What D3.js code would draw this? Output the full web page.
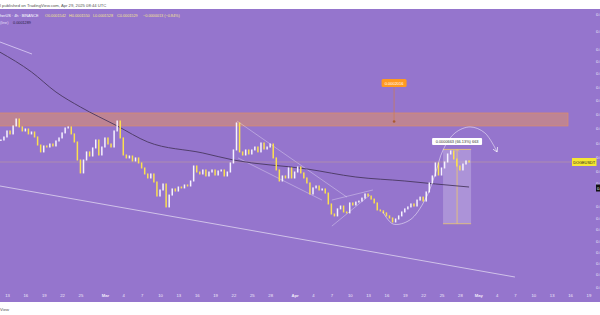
<!DOCTYPE html>
<html>
<head>
<meta charset="utf-8">
<script src="https://cdn.jsdelivr.net/npm/d3@7"></script>
<style>
html, body { margin: 0; padding: 0; background: #fff; overflow: hidden; }
svg { display: block; font-family: "Liberation Sans", "DejaVu Sans", sans-serif; }
</style>
</head>
<body>
<svg id="chart" width="600" height="315"></svg>
<script>
/*--- datos ---*/
// velas de 12h desde el 12 de febrero (cierres)
let inicio_velas = "2025-02-12T00:00"
let cierres = [
  0.0001777, 0.0001814, 0.0001890, 0.0001852, 0.0001956, 0.0002051, 0.0001943, 0.0001890, 0.0001916, 0.0001852,
  0.0001877, 0.0001814, 0.0001717, 0.0001638, 0.0001706, 0.0001694, 0.0001729, 0.0001706, 0.0001765, 0.0001802,
  0.0001865, 0.0001929, 0.0001943, 0.0001852, 0.0001753, 0.0001550, 0.0001419, 0.0001550, 0.0001638, 0.0001593,
  0.0001683, 0.0001777, 0.0001604, 0.0001694, 0.0001802, 0.0001729, 0.0001694, 0.0001890, 0.0002023, 0.0001802,
  0.0001604, 0.0001572, 0.0001593, 0.0001540, 0.0001572, 0.0001519, 0.0001468, 0.0001409, 0.0001371, 0.0001409,
  0.0001334, 0.0001212, 0.0001263, 0.0001316, 0.0001125, 0.0001220, 0.0001272, 0.0001254, 0.0001289, 0.0001281,
  0.0001307, 0.0001298, 0.0001343, 0.0001488, 0.0001428, 0.0001409, 0.0001448, 0.0001390, 0.0001428, 0.0001448,
  0.0001399, 0.0001438, 0.0001448, 0.0001390, 0.0001428, 0.0001519, 0.0001660, 0.0001996, 0.0001638, 0.0001604,
  0.0001660, 0.0001615, 0.0001660, 0.0001694, 0.0001638, 0.0001741, 0.0001671, 0.0001694, 0.0001729, 0.0001572,
  0.0001448, 0.0001343, 0.0001390, 0.0001371, 0.0001468, 0.0001371, 0.0001428, 0.0001478, 0.0001419, 0.0001371,
  0.0001325, 0.0001229, 0.0001281, 0.0001298, 0.0001263, 0.0001272, 0.0001237, 0.0001148, 0.0001072, 0.0001058,
  0.0001110, 0.0001132, 0.0001087, 0.0001080, 0.0001156, 0.0001140, 0.0001163, 0.0001171, 0.0001195, 0.0001229,
  0.0001212, 0.0001187, 0.0001156, 0.0001102, 0.0001095, 0.0001080, 0.0001058, 0.0001043, 0.0001015, 0.0001036,
  0.0001058, 0.0001087, 0.0001110, 0.0001125, 0.0001148, 0.0001132, 0.0001179, 0.0001203, 0.0001171, 0.0001246,
  0.0001325, 0.0001390, 0.0001519, 0.0001399, 0.0001468, 0.0001529, 0.0001615, 0.0001649, 0.0001561, 0.0001488,
  0.0001448, 0.0001508, 0.0001540, 0.0001529
]

// media movil (linea oscura)
let ma_fechas = ["2025-02-11T18:00", "2025-02-17T00:00", "2025-02-21T00:00", "2025-02-25T00:00", "2025-03-03T00:00",
  "2025-03-08T00:00", "2025-03-17T00:00", "2025-03-22T00:00", "2025-04-03T00:00", "2025-04-11T00:00",
  "2025-04-19T00:00", "2025-04-24T00:00", "2025-04-29T12:00"]
let ma_valores = [0.0003245, 0.0002828, 0.0002466, 0.0002226, 0.0001956, 0.0001753, 0.0001626, 0.0001550,
  0.0001458, 0.0001380, 0.0001343, 0.0001316, 0.0001289]

let fechas_eje_x = ["2025-02-13", "2025-02-16", "2025-02-19", "2025-02-22", "2025-02-25", "2025-03-01",
  "2025-03-04", "2025-03-07", "2025-03-10", "2025-03-13", "2025-03-16", "2025-03-19", "2025-03-22", "2025-03-25",
  "2025-03-28", "2025-04-01", "2025-04-04", "2025-04-07", "2025-04-10", "2025-04-13", "2025-04-16", "2025-04-19",
  "2025-04-22", "2025-04-25", "2025-04-28", "2025-05-01", "2025-05-04", "2025-05-07", "2025-05-10", "2025-05-13",
  "2025-05-16", "2025-05-19"]

let ticks_precio = [0.0004200, 0.0003750, 0.0003300, 0.0003050, 0.0002800, 0.0002550, 0.0002330, 0.0002120,
  0.0001930, 0.0001740, 0.0001580, 0.0001440, 0.0001320, 0.0001130, 0.0001040, 0.0000968, 0.0000890,
  0.0000825, 0.0000765, 0.0000710, 0.0000650]

let precio_ultimo = 0.0001529
let ma_ultimo = 0.0001289

// dibujos sobre el grafico [fecha, precio]
let zona = [["2025-02-01T00:00", 0.0002137], ["2025-05-15T16:00", 0.0001956]]
let alerta = ["2025-04-17T06:00", 0.0002016]
let linea_arriba_izq = [["2025-02-11T20:00", 0.0003471], ["2025-02-17T02:00", 0.0003197]]
let linea_larga = [["2025-02-11T20:00", 0.0001298], ["2025-05-07T00:00", 0.0000697]]
let canal = [
  [["2025-03-22T14:00", 0.0002023], ["2025-04-09T13:00", 0.0001203]],
  [["2025-03-22T18:00", 0.0001572], ["2025-04-05T11:00", 0.0001179]],
  [["2025-04-07T02:00", 0.0001179], ["2025-04-13T19:00", 0.0001263]],
  [["2025-04-07T02:00", 0.0000987], ["2025-04-13T07:00", 0.0001220]]
]
let arco = [["2025-04-15T10:00", 0.0001087], ["2025-04-17T02:00", 0.0001001], ["2025-04-19T20:00", 0.0001029],
  ["2025-04-22T07:00", 0.0001179], ["2025-04-23T22:00", 0.0001399], ["2025-04-25T06:00", 0.0001660],
  ["2025-04-27T05:00", 0.0001865], ["2025-04-29T16:00", 0.0001943], ["2025-05-02T02:00", 0.0001865],
  ["2025-05-04T02:00", 0.0001638]]
let medida = {desde: "2025-04-25T06:00", hasta: "2025-04-29T20:00", centro: "2025-04-27T13:00",
  bajo: 0.0001003, alto: 0.0001666, texto: "0.0000663 (66.13%) 663"}

/*--- escalas ---*/
let parse = d3.utcParse("%Y-%m-%dT%H:%M")
let parseDia = d3.utcParse("%Y-%m-%d")

let x = d3.scaleUtc()
  .domain([parseDia("2025-02-13"), parseDia("2025-05-19")])
  .range([7, 588.4])

let y = d3.scaleLog()
  .domain([ma_ultimo, precio_ultimo])
  .range([187, 162])

let svg = d3.select("#chart")
let morado = "#9575cd"

// franja superior e inferior
svg.append("rect").attr("x", 0).attr("y", 9).attr("width", 600).attr("height", 293).attr("fill", morado)

svg.append("text").attr("x", 0).attr("y", 6.5)
  .attr("font-size", 4.2).attr("fill", "#555")
  .text("l published on TradingView.com, Apr 29, 2025 08:44 UTC")

svg.append("text").attr("x", 0).attr("y", 311)
  .attr("font-size", 4.2).attr("fill", "#555")
  .text("View")

svg.append("defs").append("clipPath").attr("id", "area")
  .append("rect").attr("x", 0).attr("y", 9).attr("width", 600).attr("height", 293)

let g = svg.append("g").attr("clip-path", "url(#area)")

/*--- zona naranja ---*/
g.append("rect")
  .attr("x", x(parse(zona[0][0])))
  .attr("y", y(zona[0][1]))
  .attr("width", x(parse(zona[1][0])) - x(parse(zona[0][0])))
  .attr("height", y(zona[1][1]) - y(zona[0][1]))
  .attr("fill", "rgba(240,150,80,0.45)")
  .attr("stroke", "rgb(222,140,105)")
  .attr("stroke-width", 0.7)

/*--- lineas de dibujo ---*/
let blanco = "rgba(255,255,255,0.7)"
function segmento(p, color, ancho) {
  g.append("line")
    .attr("x1", x(parse(p[0][0]))).attr("y1", y(p[0][1]))
    .attr("x2", x(parse(p[1][0]))).attr("y2", y(p[1][1]))
    .attr("stroke", color).attr("stroke-width", ancho)
}
segmento(linea_arriba_izq, "rgba(235,225,255,0.85)", 0.8)
segmento(linea_larga, blanco, 0.8)
canal.forEach(p => segmento(p, "rgba(255,255,255,0.55)", 0.6))

// linea de ultimo precio
g.append("line")
  .attr("x1", 0).attr("x2", 572)
  .attr("y1", y(precio_ultimo)).attr("y2", y(precio_ultimo))
  .attr("stroke", "rgba(200,165,150,0.85)").attr("stroke-width", 0.6)

/*--- rectangulo de medida ---*/
let mx0 = x(parse(medida.desde)), mx1 = x(parse(medida.hasta))
let my0 = y(medida.alto), my1 = y(medida.bajo)
g.append("rect")
  .attr("x", mx0).attr("y", my0).attr("width", mx1 - mx0).attr("height", my1 - my0)
  .attr("fill", "rgba(255,255,255,0.22)")
let amarillo_claro = "rgb(236,200,110)"
g.append("line").attr("x1", mx0).attr("x2", mx1).attr("y1", my0).attr("y2", my0)
  .attr("stroke", amarillo_claro).attr("stroke-width", 0.8)
g.append("line").attr("x1", mx0).attr("x2", mx1).attr("y1", my1).attr("y2", my1)
  .attr("stroke", amarillo_claro).attr("stroke-width", 0.8)
let mxc = x(parse(medida.centro))
g.append("line").attr("x1", mxc).attr("x2", mxc).attr("y1", my0).attr("y2", my1)
  .attr("stroke", amarillo_claro).attr("stroke-width", 0.8)
g.append("path")
  .attr("d", `M${mxc - 2},${my0 + 2} L${mxc},${my0} L${mxc + 2},${my0 + 2}`)
  .attr("fill", "none").attr("stroke", amarillo_claro).attr("stroke-width", 0.7)

/*--- media movil ---*/
let lineaMA = d3.line()
  .x((d, i) => x(parse(ma_fechas[i])))
  .y(d => y(d))
  .curve(d3.curveMonotoneX)
g.append("path").datum(ma_valores)
  .attr("d", lineaMA)
  .attr("fill", "none")
  .attr("stroke", "rgb(72,56,96)")
  .attr("stroke-width", 0.9)

/*--- velas ---*/
let t0 = parse(inicio_velas)
let velas = cierres.map((c, i) => ({
  fecha: d3.utcHour.offset(t0, i * 12),
  abre: i === 0 ? c : cierres[i - 1],
  cierra: c
}))

g.append("g").selectAll("rect")
  .data(velas)
  .enter().append("rect")
  .attr("x", d => x(d.fecha) - 0.75)
  .attr("width", 1.5)
  .attr("y", d => Math.min(y(d.abre), y(d.cierra)) - 0.5)
  .attr("height", d => Math.max(1.5, Math.abs(y(d.abre) - y(d.cierra)) + 1))
  .attr("fill", d => d.cierra >= d.abre ? "#f6f2ff" : "#fbe04e")

/*--- arco con flecha ---*/
svg.select("defs").append("marker")
  .attr("id", "flecha")
  .attr("viewBox", "0 0 6 6").attr("refX", 5).attr("refY", 3)
  .attr("markerWidth", 5).attr("markerHeight", 5)
  .attr("markerUnits", "userSpaceOnUse")
  .attr("orient", "auto")
  .append("path").attr("d", "M0,0 L5,3 L0,6")
  .attr("fill", "none").attr("stroke", "rgba(255,255,255,0.8)").attr("stroke-width", 1)

let lineaArco = d3.line()
  .x(d => x(parse(d[0])))
  .y(d => y(d[1]))
  .curve(d3.curveCatmullRom)
g.append("path").datum(arco)
  .attr("d", lineaArco)
  .attr("fill", "none")
  .attr("stroke", "rgba(255,255,255,0.7)")
  .attr("stroke-width", 0.7)
  .attr("marker-end", "url(#flecha)")

/*--- alerta naranja ---*/
let ax = x(parse(alerta[0])), ay = y(alerta[1])
g.append("line").attr("x1", ax).attr("x2", ax).attr("y1", 87).attr("y2", ay)
  .attr("stroke", "rgb(205,125,80)").attr("stroke-width", 0.7)
g.append("circle").attr("cx", ax).attr("cy", ay).attr("r", 1.3).attr("fill", "rgb(170,90,50)")
g.append("rect").attr("x", ax - 12.5).attr("y", 79).attr("width", 25).attr("height", 8).attr("rx", 1.5)
  .attr("fill", "#ff9a1f")
g.append("text").attr("x", ax).attr("y", 84.5).attr("text-anchor", "middle")
  .attr("font-size", 4).attr("fill", "#fff").text(d3.format(".7f")(alerta[1]))

/*--- etiqueta de medida ---*/
g.append("rect").attr("x", mxc - 25).attr("y", 138).attr("width", 50).attr("height", 7).attr("rx", 1)
  .attr("fill", "#ffffff")
g.append("text").attr("x", mxc).attr("y", 143).attr("text-anchor", "middle")
  .attr("font-size", 3.9).attr("fill", "#333").text(medida.texto)

/*--- ejes ---*/
let ejeX = d3.axisBottom(x)
  .tickValues(fechas_eje_x.map(parseDia))
  .tickSize(0).tickPadding(0)
  .tickFormat(d => d.getUTCDate() === 1 ? d3.utcFormat("%b")(d) : d.getUTCDate())
let gx = svg.append("g").attr("transform", "translate(0,294.5)").call(ejeX)
gx.select(".domain").remove()
gx.selectAll("text")
  .attr("font-size", 4.2).attr("fill", "#f1ecfa")
  .attr("font-family", "Liberation Sans, DejaVu Sans, sans-serif")
  .attr("font-weight", d => d.getUTCDate() === 1 ? "bold" : "normal")

let ejeY = d3.axisRight(y)
  .tickValues(ticks_precio)
  .tickSize(0).tickPadding(0)
  .tickFormat(d3.format(".7f"))
let gy = svg.append("g").attr("transform", "translate(596,0)").call(ejeY)
gy.select(".domain").remove()
gy.selectAll("text")
  .attr("font-size", 4.2).attr("fill", "#f1ecfa")
  .attr("font-family", "Liberation Sans, DejaVu Sans, sans-serif")

// etiquetas del lado derecho
svg.append("rect").attr("x", 572).attr("y", y(precio_ultimo) - 4).attr("width", 24.5).attr("height", 8)
  .attr("fill", "#f5e733")
svg.append("text").attr("x", 584.2).attr("y", y(precio_ultimo) + 1.5).attr("text-anchor", "middle")
  .attr("font-size", 3.9).attr("fill", "#222").text("DOGEUSDT")
svg.append("rect").attr("x", 596).attr("y", y(ma_ultimo) - 2.5).attr("width", 30).attr("height", 7)
  .attr("fill", "#111")
svg.append("text").attr("x", 597).attr("y", y(ma_ultimo) + 2.5)
  .attr("font-size", 4.2).attr("fill", "#fff").text(d3.format(".7f")(ma_ultimo))

/*--- leyenda ---*/
let fs_leyenda = 3.8
svg.append("text").attr("x", 0).attr("y", 16.5).attr("font-size", fs_leyenda)
  .attr("fill", "#ffffff").text("herUS · 4h · BINANCE")
let amarillo_leyenda = "#f4e48a"
let ohlc = [["O", 0.0001542, 45], ["H", 0.0001550, 69], ["L", 0.0001528, 93], ["C", 0.0001529, 117]]
ohlc.forEach(o => {
  svg.append("text").attr("x", o[2]).attr("y", 16.5).attr("font-size", fs_leyenda)
    .attr("fill", amarillo_leyenda).text(o[0] + d3.format(".7f")(o[1]))
})
svg.append("text").attr("x", 143).attr("y", 16.5).attr("font-size", fs_leyenda)
  .attr("fill", amarillo_leyenda).text("−0.0000013 (−0.84%)")

svg.append("text").attr("x", 0).attr("y", 23.5).attr("font-size", fs_leyenda)
  .attr("fill", "#e6dcf7").text("(line)")
svg.append("text").attr("x", 13).attr("y", 23.5).attr("font-size", fs_leyenda)
  .attr("fill", "#2a2040").text(d3.format(".7f")(ma_ultimo))
</script>
</body>
</html>
